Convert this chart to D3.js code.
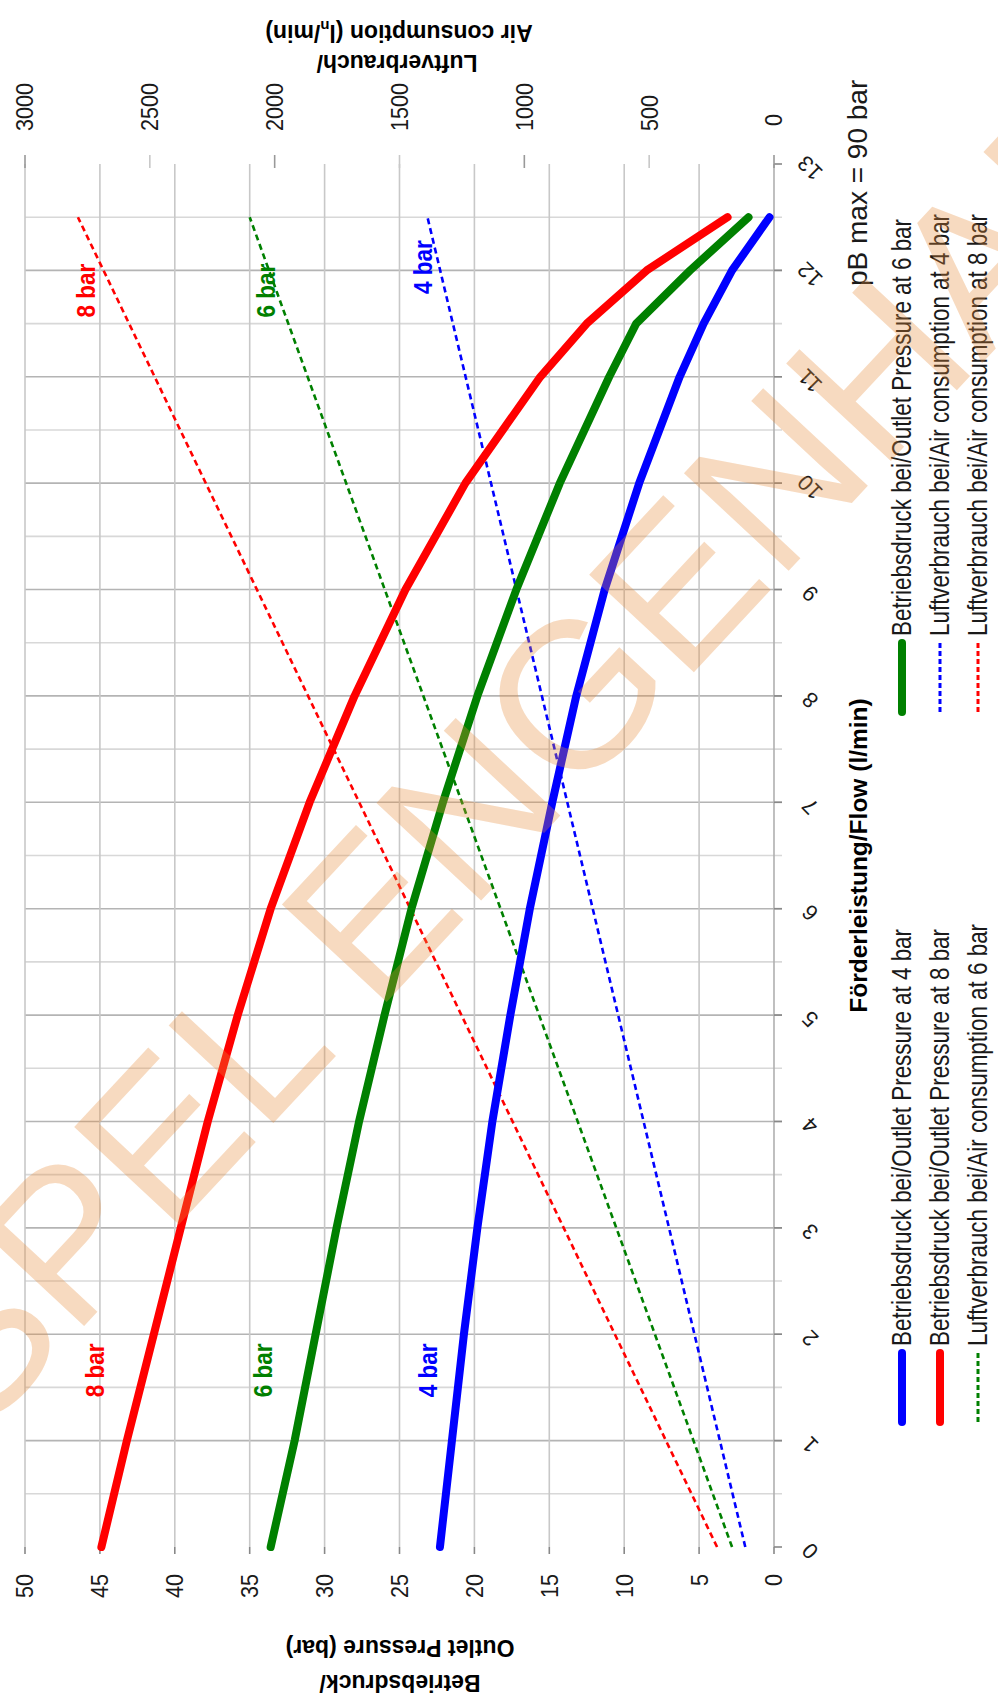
<!DOCTYPE html>
<html><head><meta charset="utf-8">
<script src="https://cdn.jsdelivr.net/npm/d3@7"></script>
<style>html,body{margin:0;padding:0;background:#fff;} svg{display:block;}</style>
</head><body>
<svg id="c" width="998" height="1695"></svg>
<script>
// ---------- data ----------
const flows = [0, 1, 2, 3, 4, 5, 6, 7, 8, 9, 10, 11, 11.5, 12, 12.5];
const pressure4 = [22.3, 21.5, 20.7, 19.8, 18.8, 17.6, 16.3, 14.8, 13.2, 11.3, 9.0, 6.3, 4.7, 2.8, 0.3];
const pressure6 = [33.6, 32.0, 30.6, 29.2, 27.7, 26.0, 24.2, 22.1, 19.8, 17.2, 14.3, 11.0, 9.2, 5.6, 1.7];
const pressure8 = [44.9, 43.2, 41.4, 39.6, 37.8, 35.8, 33.6, 31.0, 28.0, 24.6, 20.6, 15.6, 12.5, 8.5, 3.1];
const airFlows = [0, 12.5];
const air4 = [115, 1388];
const air6 = [168, 2100];
const air8 = [228, 2788];
const flowTicks = [0,1,2,3,4,5,6,7,8,9,10,11,12,13];
const pressureTicks = [0,5,10,15,20,25,30,35,40,45,50];
const airTicks = [0,500,1000,1500,2000,2500,3000];
const legendLabels = [
  "Betriebsdruck bei/Outlet Pressure at 4 bar",
  "Betriebsdruck bei/Outlet Pressure at 6 bar",
  "Betriebsdruck bei/Outlet Pressure at 8 bar",
  "Luftverbrauch bei/Air consumption at 4 bar",
  "Luftverbrauch bei/Air consumption at 6 bar",
  "Luftverbrauch bei/Air consumption at 8 bar"
];

// ---------- setup ----------
const W = 998, H = 1695;
const FONT = '"Liberation Sans", Arial, Helvetica, sans-serif';
const BLUE = '#0000ff', GREEN = '#008000', RED = '#ff0000';
const svg = d3.select('#c');
svg.append('rect').attr('width', W).attr('height', H).attr('fill', '#fff');

// chart is shown rotated: flow runs bottom->top, pressure/air run right->left
const x = d3.scaleLinear().domain([0, 50]).range([774, 25]);
const xa = d3.scaleLinear().domain([0, 3000]).range([774, 25]);
const y = d3.scaleLinear().domain([0, 13]).range([1547, 164]);

const g = svg.append('g');

// horizontal grid (flow), every 0.5
const gridFlows = d3.range(1, 26).map(d => d / 2);
g.selectAll('.hg').data(gridFlows).join('line')
  .attr('x1', x(50)).attr('x2', x(0) + 8)
  .attr('y1', d => y(d)).attr('y2', d => y(d))
  .attr('stroke', d => Number.isInteger(d) ? '#b4b4b4' : '#d8d8d8')
  .attr('stroke-width', 1.6);

// vertical grid (pressure)
g.selectAll('.vg').data(pressureTicks).join('line')
  .attr('x1', d => x(d)).attr('x2', d => x(d))
  .attr('y1', y(13)).attr('y2', y(0))
  .attr('stroke', d => d === 0 ? '#b0b0b0' : '#c8c8c8')
  .attr('stroke-width', 1.6);

// pressure ticks (bottom)
g.selectAll('.pt').data(pressureTicks).join('line')
  .attr('x1', d => x(d)).attr('x2', d => x(d))
  .attr('y1', y(0)).attr('y2', y(0) + 7)
  .attr('stroke', '#888').attr('stroke-width', 1.6);
// flow ticks (right)
g.selectAll('.ft').data(flowTicks).join('line')
  .attr('x1', x(0)).attr('x2', x(0) + 8)
  .attr('y1', d => y(d)).attr('y2', d => y(d))
  .attr('stroke', '#888').attr('stroke-width', 1.6);
// air ticks (top)
g.selectAll('.at').data(airTicks).join('line')
  .attr('x1', d => xa(d)).attr('x2', d => xa(d))
  .attr('y1', y(13) - 9).attr('y2', y(13) + 4)
  .attr('stroke', d => d % 1000 === 0 ? '#999' : '#c8c8c8').attr('stroke-width', 1.6);

// tick labels
g.selectAll('.pl').data(pressureTicks).join('text')
  .attr('transform', d => `translate(${x(d)},1574) rotate(-90) scale(0.9,1)`)
  .attr('text-anchor', 'end').attr('dominant-baseline', 'central')
  .attr('font-family', FONT).attr('font-size', 24).attr('fill', '#1a1a1a')
  .text(d => d);
g.selectAll('.al').data(airTicks.filter(d => d > 0)).join('text')
  .attr('transform', d => `translate(${xa(d)},131) rotate(-90) scale(0.9,1)`)
  .attr('text-anchor', 'start').attr('dominant-baseline', 'central')
  .attr('font-family', FONT).attr('font-size', 24).attr('fill', '#1a1a1a')
  .text(d => d);
g.append('text')
  .attr('transform', `translate(${xa(0)},120) rotate(-90) scale(0.9,1)`)
  .attr('text-anchor', 'middle').attr('dominant-baseline', 'central')
  .attr('font-family', FONT).attr('font-size', 24).attr('fill', '#1a1a1a')
  .text(airTicks[0]);
g.selectAll('.fl').data(flowTicks).join('text')
  .attr('transform', d => `translate(810,${y(d) + 4}) rotate(-135)`)
  .attr('text-anchor', 'middle').attr('dominant-baseline', 'central')
  .attr('font-family', FONT).attr('font-size', 22).attr('fill', '#1a1a1a')
  .text(d => d);

// axis titles
g.append('text')
  .attr('transform', `translate(858,${y(6.5)}) rotate(-90)`)
  .attr('text-anchor', 'middle').attr('dominant-baseline', 'central')
  .attr('font-family', FONT).attr('font-size', 24.5).attr('font-weight', 'bold')
  .text('Förderleistung/Flow (l/min)');
const ptitle = [['Outlet Pressure (bar)', 1648], ['Betriebsdruck/', 1683]];
ptitle.forEach(([t, yy]) => {
  g.append('text').attr('transform', `translate(400,${yy}) rotate(180)`)
    .attr('text-anchor', 'middle').attr('dominant-baseline', 'central')
    .attr('font-family', FONT).attr('font-size', 23).attr('font-weight', 'bold').text(t);
});
const at1 = g.append('text').attr('transform', `translate(399,33) rotate(180)`)
  .attr('text-anchor', 'middle').attr('dominant-baseline', 'central')
  .attr('font-family', FONT).attr('font-size', 23).attr('font-weight', 'bold');
at1.append('tspan').text('Air consumption (l');
at1.append('tspan').attr('font-size', 15).attr('dy', 6).text('n');
at1.append('tspan').attr('dy', -6).text('/min)');
g.append('text').attr('transform', `translate(397,63) rotate(180)`)
  .attr('text-anchor', 'middle').attr('dominant-baseline', 'central')
  .attr('font-family', FONT).attr('font-size', 23).attr('font-weight', 'bold')
  .text('Luftverbrauch/');

g.append('text')
  .attr('transform', `translate(857,286) rotate(-90)`)
  .attr('text-anchor', 'start').attr('dominant-baseline', 'central')
  .attr('font-family', FONT).attr('font-size', 28).attr('fill', '#1a1a1a')
  .text('pB max = 90 bar');

// ---------- series ----------
const solid = d3.line().x(d => x(d[1])).y(d => y(d[0]));
const dashed = d3.line().x(d => xa(d[1])).y(d => y(d[0]));
const airSeries = [[air4, BLUE], [air6, GREEN], [air8, RED]];
airSeries.forEach(([vals, col]) => {
  g.append('path').datum(airFlows.map((f, i) => [f, vals[i]]))
    .attr('d', dashed).attr('fill', 'none').attr('stroke', col)
    .attr('stroke-width', 2.6).attr('stroke-dasharray', '6,4');
});
const presSeries = [[pressure4, BLUE], [pressure6, GREEN], [pressure8, RED]];
presSeries.forEach(([vals, col]) => {
  g.append('path').datum(flows.map((f, i) => [f, vals[i]]))
    .attr('d', solid).attr('fill', 'none').attr('stroke', col)
    .attr('stroke-width', 8).attr('stroke-linecap', 'round').attr('stroke-linejoin', 'round');
});

// curve labels
const curveLabels = [
  ['8 bar', RED, 45.3, 1.66], ['6 bar', GREEN, 34.1, 1.66], ['4 bar', BLUE, 23.1, 1.66],
  ['8 bar', RED, 45.9, 11.81], ['6 bar', GREEN, 33.9, 11.81], ['4 bar', BLUE, 23.4, 12.03]
];
curveLabels.forEach(([t, c, p, f]) => {
  g.append('text').attr('transform', `translate(${x(p)},${y(f)}) rotate(-90) scale(0.9,1)`)
    .attr('text-anchor', 'middle').attr('dominant-baseline', 'central')
    .attr('font-family', FONT).attr('font-size', 25).attr('font-weight', 'bold')
    .attr('fill', c).text(t);
});

// ---------- legend ----------
const legendItems = [
  [legendLabels[0], BLUE, false, 902, 1422],
  [legendLabels[1], GREEN, false, 902, 712],
  [legendLabels[2], RED, false, 940, 1422],
  [legendLabels[3], BLUE, true, 940, 712],
  [legendLabels[4], GREEN, true, 978, 1422],
  [legendLabels[5], RED, true, 978, 712]
];
legendItems.forEach(([t, c, dash, lx, ly]) => {
  const ln = g.append('line').attr('x1', lx).attr('x2', lx).attr('y1', ly).attr('y2', ly - 69)
    .attr('stroke', c);
  if (dash) ln.attr('stroke-width', 3).attr('stroke-dasharray', '5,3');
  else ln.attr('stroke-width', 8).attr('stroke-linecap', 'round');
  g.append('text').attr('transform', `translate(${lx},${ly - 76}) rotate(-90) scale(0.83,1)`)
    .attr('text-anchor', 'start').attr('dominant-baseline', 'central')
    .attr('font-family', FONT).attr('font-size', 27).attr('fill', '#1a1a1a').text(t);
});

// ---------- watermark ----------
svg.append('text')
  .attr('transform', 'translate(-22,1440) rotate(-47)')
  .attr('font-family', FONT).attr('font-size', 208)
  .attr('fill', 'rgb(230,140,60)').attr('fill-opacity', 0.32)
  .text('SPEL ENGENHARIA');
</script>
</body></html>
